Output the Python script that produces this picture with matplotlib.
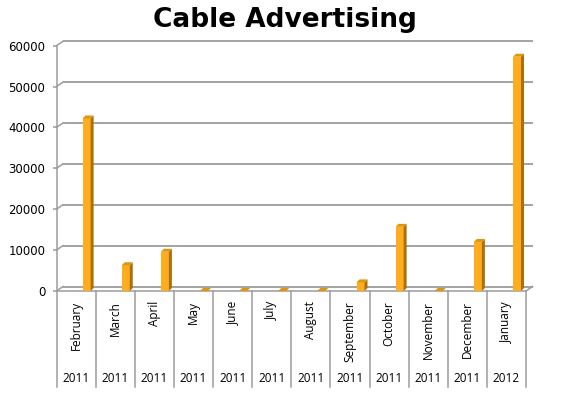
import matplotlib
matplotlib.use("Agg")
import matplotlib.pyplot as plt
from matplotlib.patches import Polygon
from matplotlib.transforms import ScaledTranslation

months = ["February", "March", "April", "May", "June", "July", "August",
          "September", "October", "November", "December", "January"]
years = ["2011", "2011", "2011", "2011", "2011", "2011", "2011",
         "2011", "2011", "2011", "2011", "2012"]
values = [42200, 6300, 9600, 0, 0, 0, 0, 2100, 15700, 0, 12000, 57300]
yticks = [0, 10000, 20000, 30000, 40000, 50000, 60000]

W, H = 563, 395
fig = plt.figure(figsize=(W / 100, H / 100), dpi=100)
# front edge of the floor: x 56.5..526 px, y 291 (0) .. 45.7 (60000)
x0, x1, yb, yt = 56.5, 526, 291, 45.7
ax = fig.add_axes([x0 / W, 1 - yb / H, (x1 - x0) / W, (yb - yt) / H])
ax.set_xlim(0, 12)
ax.set_ylim(0, 60000)
ax.patch.set_visible(False)

grid_col = "#9c9c9c"
# back wall offset (pixels)
bx, by = 6.5, 4.5
back = ax.transData + ScaledTranslation(bx / 100, by / 100, fig.dpi_scale_trans)
xpx = (x1 - x0) / 12
ypx = 60000 / (yb - yt)

for t in yticks:
    ax.plot([0, 12], [t, t], color=grid_col, lw=1.3, transform=back, zorder=1,
            solid_capstyle="butt", clip_on=False)
    # diagonal from the axis to the wall
    ax.plot([0, bx / xpx], [t, t + by * ypx],
            color=grid_col, lw=1.1, zorder=1, clip_on=False)

# floor front edge and right diagonal
ax.plot([0, 12], [0, 0], color=grid_col, lw=1.1, zorder=1, clip_on=False)
ax.plot([12, 12 + bx / xpx], [0, by * ypx],
        color=grid_col, lw=1.1, zorder=1, clip_on=False)

# bars with a bit of 3d look
bw = 8 / xpx
dx = 3 / xpx
dy = 3 * ypx
front_col = "#ffad1f"
side_col = "#a87010"
top_col = "#e0950f"
for i, v in enumerate(values):
    xc = i + 0.77
    xl, xr = xc - bw / 2, xc + bw / 2
    if v > 0:
        ax.bar(xc, v, width=bw, color=front_col, zorder=3, linewidth=0)
        ax.add_patch(Polygon([(xr, 0), (xr, v), (xr + dx, v + dy), (xr + dx, dy)],
                             closed=True, color=side_col, lw=0, zorder=3))
    ax.add_patch(Polygon([(xl, v), (xr, v), (xr + dx, v + dy), (xl + dx, v + dy)],
                         closed=True, color=top_col, lw=0, zorder=4))

# axes styling
for s in ["top", "right", "bottom"]:
    ax.spines[s].set_visible(False)
ax.spines["left"].set_color(grid_col)
ax.spines["left"].set_linewidth(1.1)
ax.set_yticks(yticks)
ax.set_yticklabels([str(t) for t in yticks], fontsize=8.5)
ax.tick_params(axis="y", length=3, width=1.1, color=grid_col, pad=5)
ax.set_xticks([])

# category area below the floor
xt = ax.get_xaxis_transform()
low = -(387 - yb) / (yb - yt)
for k in range(13):
    ax.plot([k, k], [0, low], color=grid_col, lw=1.1, transform=xt, clip_on=False)
for i, (m, yr) in enumerate(zip(months, years)):
    ax.text(i + 0.5, -(301 - yb) / (yb - yt), m, transform=xt, rotation=90,
            ha="center", va="top", fontsize=8.5, family="Open Sans")
    ax.text(i + 0.5, -(379 - yb) / (yb - yt), yr, transform=xt,
            ha="center", va="center", fontsize=8.5, family="Open Sans")

fig.text(285 / W, 1 - 20 / H, "Cable Advertising", ha="center", va="center",
         fontsize=19, fontweight="bold")

fig.savefig("out.png", dpi=100)
